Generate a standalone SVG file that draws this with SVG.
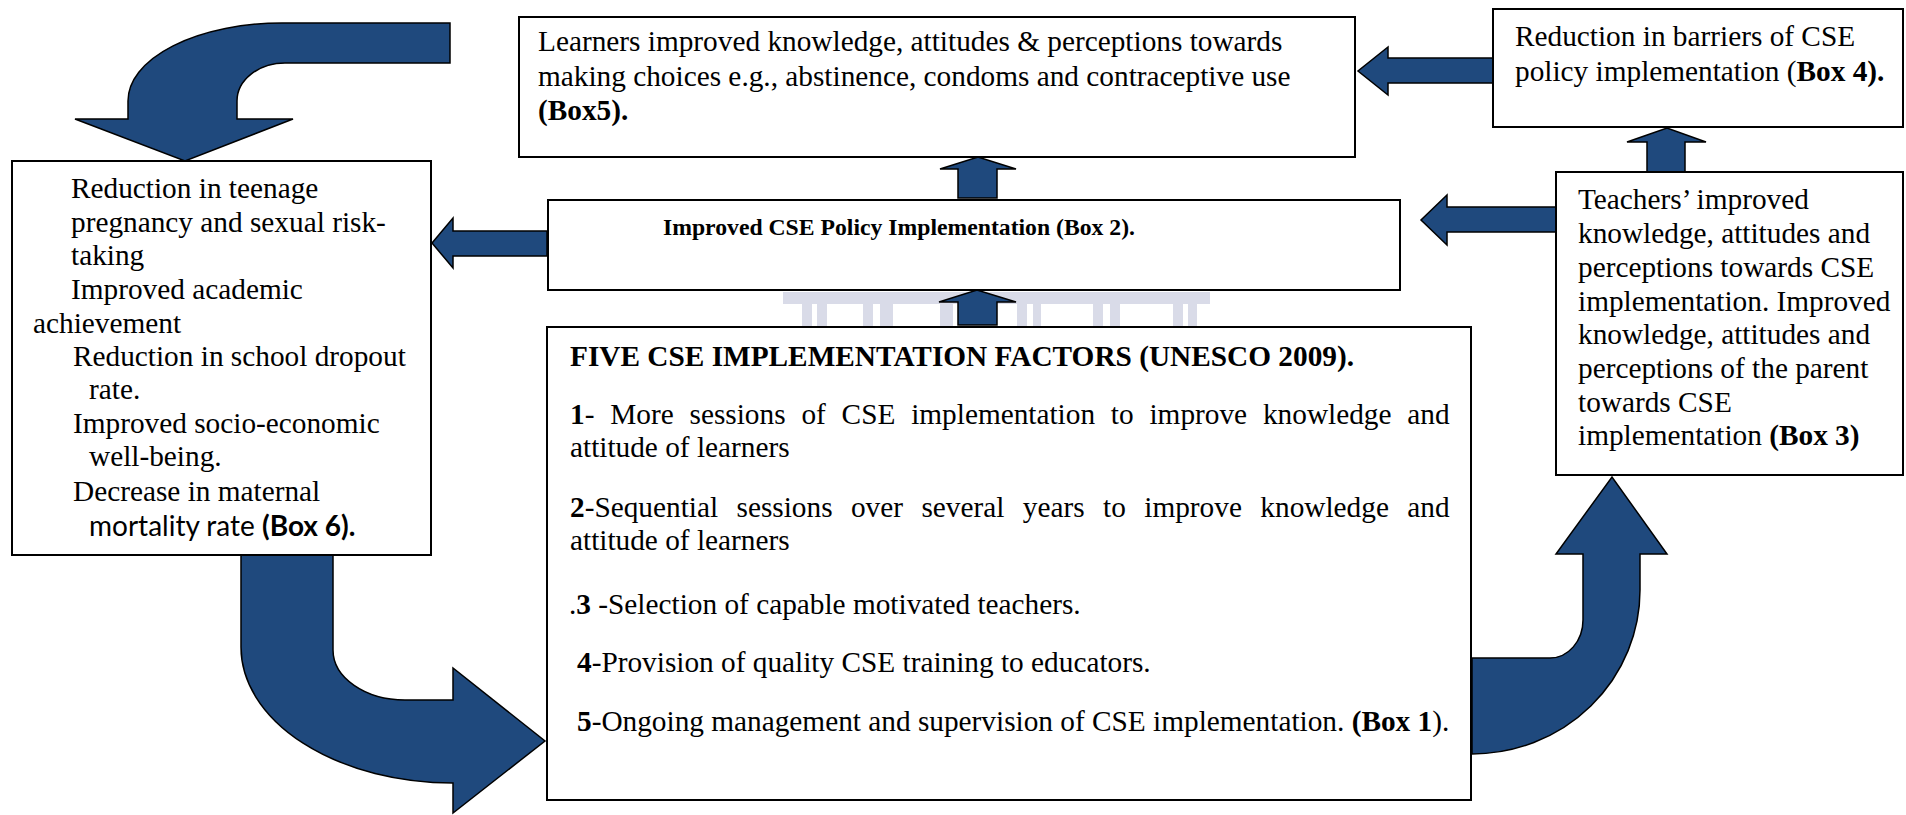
<svg xmlns="http://www.w3.org/2000/svg" width="1906" height="815" viewBox="0 0 1906 815">
  <style>
    .box { fill: #ffffff; stroke: #000000; stroke-width: 2; }
    .arrow { fill: #1F497D; stroke: #000000; stroke-width: 1.5; stroke-linejoin: miter; }
    .t { font-family: "Liberation Serif", "Times New Roman", serif; font-size: 29.3px; fill: #000000; }
    .s { font-family: Lato, "Liberation Sans", sans-serif; font-size: 28px; fill: #000000; }
    .b { font-weight: bold; }
    .wm { fill: #d9dbe8; }
  </style>

  <rect x="0" y="0" width="1906" height="815" fill="#ffffff"/>

  <!-- faint building watermark between the policy box and the factors box -->
  <g id="watermark">
    <rect class="wm" x="783" y="292" width="427" height="12"/>
    <rect class="wm" x="802" y="304" width="10" height="22"/>
    <rect class="wm" x="817" y="304" width="10" height="22"/>
    <rect class="wm" x="863" y="304" width="10" height="22"/>
    <rect class="wm" x="880" y="304" width="13" height="22"/>
    <rect class="wm" x="940" y="304" width="13" height="22"/>
    <rect class="wm" x="1017" y="304" width="10" height="22"/>
    <rect class="wm" x="1033" y="304" width="8" height="22"/>
    <rect class="wm" x="1093" y="304" width="10" height="22"/>
    <rect class="wm" x="1110" y="304" width="10" height="22"/>
    <rect class="wm" x="1173" y="304" width="10" height="22"/>
    <rect class="wm" x="1188" y="304" width="9" height="22"/>
  </g>

  <g id="connectors">
    <!-- curved arrow: learners outcome back down to the social outcomes box -->
    <path class="arrow" d="M450,23 H282 A154,78 0 0 0 128,101 V119 H75 L185,161 L293,119 H237 V101 A48,38 0 0 1 285,63 H450 Z"/>
    <!-- Box 4 to Box 5 -->
    <path class="arrow" d="M1493,58 H1388 V47 L1358,71 L1388,95 V83 H1493 Z"/>
    <!-- Box 2 up to Box 5 -->
    <path class="arrow" d="M958,198 V169 H940 L978,157 L1016,169 H997 V198 Z"/>
    <!-- Box 2 to Box 6 -->
    <path class="arrow" d="M547,231 H453 V218 L432,243 L453,268 V256 H547 Z"/>
    <!-- Box 3 to Box 2 -->
    <path class="arrow" d="M1556,207 H1447 V195 L1421,220 L1447,245 V232 H1556 Z"/>
    <!-- Box 3 up to Box 4 -->
    <path class="arrow" d="M1647,172 V142 H1627 L1667,128 L1706,142 H1685 V172 Z"/>
    <!-- Box 1 up to Box 2 -->
    <path class="arrow" d="M958,325 V302 H939 L977,290 L1016,302 H997 V325 Z"/>
    <!-- curved arrow: Box 6 down into Box 1 -->
    <path class="arrow" d="M241,555 V647 A212,136 0 0 0 453,783 V813 L545,741 L453,668 V700 H405 A72,50 0 0 1 333,650 V555 Z"/>
    <!-- curved arrow: Box 1 up into Box 3 -->
    <path class="arrow" d="M1472,658 H1550 A33,38 0 0 0 1583,620 V554 H1556 L1612,477 L1667,554 H1640 V590 A168,164 0 0 1 1472,754 Z"/>
  </g>

  <g id="box6">
    <rect class="box" x="12" y="161" width="419" height="394"/>
    <text class="t" x="71" y="198">Reduction in teenage</text>
    <text class="t" x="71" y="232">pregnancy and sexual risk-</text>
    <text class="t" x="71" y="265">taking</text>
    <text class="t" x="71" y="299">Improved academic</text>
    <text class="t" x="33" y="333">achievement</text>
    <text class="t" x="73" y="366">Reduction in school dropout</text>
    <text class="t" x="89" y="399">rate.</text>
    <text class="t" x="73" y="433">Improved socio-economic</text>
    <text class="t" x="89" y="466">well-being.</text>
    <text class="t" x="73" y="501">Decrease in maternal</text>
    <text class="s" x="89" y="536">mortality rate <tspan class="b">(Box 6).</tspan></text>
  </g>

  <g id="box5">
    <rect class="box" x="519" y="17" width="836" height="140"/>
    <text class="t" x="538" y="51">Learners improved knowledge, attitudes &amp; perceptions towards</text>
    <text class="t" x="538" y="86">making choices e.g., abstinence, condoms and contraceptive use</text>
    <text class="t b" x="538" y="120">(Box5).</text>
  </g>

  <g id="box4">
    <rect class="box" x="1493" y="9" width="410" height="118"/>
    <text class="t" x="1515" y="46">Reduction in barriers of CSE</text>
    <text class="t" x="1515" y="81">policy implementation (<tspan class="b">Box 4).</tspan></text>
  </g>

  <g id="box2">
    <rect class="box" x="548" y="200" width="852" height="90"/>
    <text class="t b" x="663" y="235" style="font-size:23.7px">Improved CSE Policy Implementation (Box 2).</text>
  </g>

  <g id="box3">
    <rect class="box" x="1556" y="172" width="347" height="303"/>
    <text class="t" x="1578" y="209">Teachers’ improved</text>
    <text class="t" x="1578" y="243">knowledge, attitudes and</text>
    <text class="t" x="1578" y="277">perceptions towards CSE</text>
    <text class="t" x="1578" y="311">implementation. Improved</text>
    <text class="t" x="1578" y="344">knowledge, attitudes and</text>
    <text class="t" x="1578" y="378">perceptions of the parent</text>
    <text class="t" x="1578" y="412">towards CSE</text>
    <text class="t" x="1578" y="445">implementation <tspan class="b">(Box 3)</tspan></text>
  </g>

  <g id="box1">
    <rect class="box" x="547" y="327" width="924" height="473"/>
    <text class="t b" x="570" y="366">FIVE CSE IMPLEMENTATION FACTORS (UNESCO 2009).</text>
    <text class="t" x="570" y="424" word-spacing="8.5"><tspan class="b">1</tspan>- More sessions of CSE implementation to improve knowledge and</text>
    <text class="t" x="570" y="457">attitude of learners</text>
    <text class="t" x="570" y="517" word-spacing="11.1"><tspan class="b">2</tspan>-Sequential sessions over several years to improve knowledge and</text>
    <text class="t" x="570" y="550">attitude of learners</text>
    <text class="t" x="569" y="614">.<tspan class="b">3</tspan> -Selection of capable motivated teachers.</text>
    <text class="t" x="577" y="672"><tspan class="b">4</tspan>-Provision of quality CSE training to educators.</text>
    <text class="t" x="577" y="731"><tspan class="b">5</tspan>-Ongoing management and supervision of CSE implementation. <tspan class="b">(Box 1</tspan>).</text>
  </g>
</svg>
